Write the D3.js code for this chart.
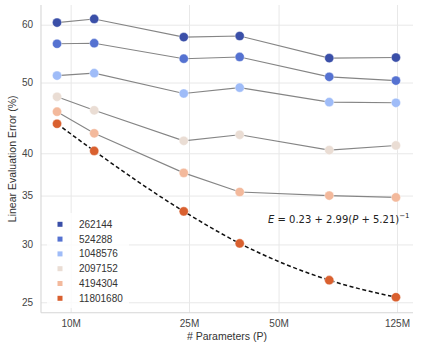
<!DOCTYPE html>
<html>
<head>
<meta charset="utf-8">
<script src="https://cdn.jsdelivr.net/npm/d3@7"></script>
<style>
  body { margin: 0; background: #fff; }
  svg text { font-family: "Liberation Sans", Arial, sans-serif; }
</style>
</head>
<body>
<svg id="chart" width="423" height="353"></svg>
<script>
// model sizes in millions of parameters
const params = [9, 12, 24, 37, 74, 124];
const batchSizes = ["262144", "524288", "1048576", "2097152", "4194304", "11801680"];
const colors = ["#3a4fa8", "#5572d1", "#9fbcf8", "#eaddd4", "#f3b99c", "#d9602f"];

// linear eval error (%) per batch size
const err262144 = [60.4, 61.1, 57.7, 57.9, 54.0, 54.1];
const err524288 = [56.5, 56.6, 53.9, 54.2, 50.9, 50.3];
const err1048576 = [51.1, 51.5, 48.3, 49.2, 47.0, 46.9];
const err2097152 = [47.8, 45.8, 41.6, 42.4, 40.4, 41.0];
const err4194304 = [45.6, 42.6, 37.6, 35.4, 35.0, 34.8];
const err11801680 = [43.9, 40.3, 33.3, 30.1, 26.8, 25.4];
const series = [err262144, err524288, err1048576, err2097152, err4194304, err11801680];

const xTicks = [10, 25, 50, 125];
const xTickLabels = ["10M", "25M", "50M", "125M"];
const yTicks = [25, 30, 35, 40, 50, 60];

var svg = d3.select("#chart"),
    margin = {top: 5, right: 10, bottom: 40.3, left: 41},
    width = +svg.attr("width") - margin.left - margin.right,
    height = +svg.attr("height") - margin.top - margin.bottom;

var x = d3.scaleLog().domain([7.95, 141.5]).range([margin.left, margin.left + width]);
var y = d3.scaleLog().domain([24.19, 63.85]).range([margin.top + height, margin.top]);

// grid + tick labels
var xAxis = svg.append("g")
  .attr("transform", "translate(0," + (margin.top + height) + ")")
  .call(d3.axisBottom(x).tickValues(xTicks)
    .tickFormat((d, i) => xTickLabels[i])
    .tickSize(-height).tickPadding(7.7));

var yAxis = svg.append("g")
  .attr("transform", "translate(" + margin.left + ",0)")
  .call(d3.axisLeft(y).tickValues(yTicks)
    .tickFormat(d3.format("d"))
    .tickSize(-width).tickPadding(8));

[xAxis, yAxis].forEach(function (g) {
  g.select(".domain").remove();
  g.selectAll(".tick line").attr("stroke", "#e8e8e8").attr("stroke-width", 1);
  g.selectAll(".tick text")
    .attr("fill", "#444")
    .style("font-size", "10px")
    .style("font-family", "'Liberation Sans', Arial, sans-serif");
});

// spines (left + bottom only)
svg.append("line")
  .attr("x1", margin.left).attr("x2", margin.left)
  .attr("y1", margin.top).attr("y2", margin.top + height)
  .attr("stroke", "#d6d6d6").attr("stroke-width", 1.1);
svg.append("line")
  .attr("x1", margin.left).attr("x2", margin.left + width)
  .attr("y1", margin.top + height).attr("y2", margin.top + height)
  .attr("stroke", "#d6d6d6").attr("stroke-width", 1.1);

// axis titles
svg.append("text")
  .attr("x", margin.left + width / 2)
  .attr("y", 340)
  .attr("text-anchor", "middle")
  .attr("fill", "#333")
  .style("font-size", "10.5px")
  .text("# Parameters (P)");

svg.append("text")
  .attr("transform", "translate(16," + (margin.top + height / 2) + ") rotate(-90)")
  .attr("text-anchor", "middle")
  .attr("fill", "#333")
  .style("font-size", "10.5px")
  .text("Linear Evaluation Error (%)");

// gray connecting lines (the largest batch gets the dashed fit instead)
var line = d3.line()
  .x((d, i) => x(params[i]))
  .y((d) => y(d));

series.slice(0, 5).forEach(function (s) {
  svg.append("path")
    .datum(s)
    .attr("fill", "none")
    .attr("stroke", "#858585")
    .attr("stroke-width", 1.1)
    .attr("d", line);
});

// dashed fit curve
svg.append("path")
  .datum(err11801680)
  .attr("fill", "none")
  .attr("stroke", "#111")
  .attr("stroke-width", 1.5)
  .attr("stroke-dasharray", "4,2.6")
  .attr("d", line.curve(d3.curveMonotoneX));

// points
series.forEach(function (s, k) {
  svg.selectAll(null)
    .data(s)
    .enter()
    .append("circle")
    .attr("cx", (d, i) => x(params[i]))
    .attr("cy", (d) => y(d))
    .attr("r", 4.6)
    .attr("fill", colors[k])
    .attr("stroke", "#fff")
    .attr("stroke-width", 0.4);
});

// equation label
var eq = svg.append("text")
  .attr("x", 268)
  .attr("y", 223)
  .attr("fill", "#222")
  .style("font-family", "'DejaVu Sans', sans-serif")
  .style("font-size", "10px");
eq.append("tspan").style("font-style", "italic").text("E");
eq.append("tspan").text(" = 0.23 + 2.99(");
eq.append("tspan").style("font-style", "italic").text("P");
eq.append("tspan").text(" + 5.21)");
eq.append("tspan").attr("dy", -5).style("font-size", "7px").text("\u22121");

// legend
var leg = svg.append("g");
leg.append("rect")
  .attr("x", 47).attr("y", 213)
  .attr("width", 82).attr("height", 95)
  .attr("rx", 2)
  .attr("fill", "#fff").attr("fill-opacity", 0.8);

batchSizes.forEach(function (b, i) {
  var yy = 224.3 + i * 14.8;
  leg.append("rect")
    .attr("x", 57.5).attr("y", yy - 2.5)
    .attr("width", 5).attr("height", 5)
    .attr("fill", colors[i]);
  leg.append("text")
    .attr("x", 79).attr("y", yy)
    .attr("dy", "0.35em")
    .attr("fill", "#333")
    .style("font-size", "10px")
    .text(b);
});
</script>
</body>
</html>
